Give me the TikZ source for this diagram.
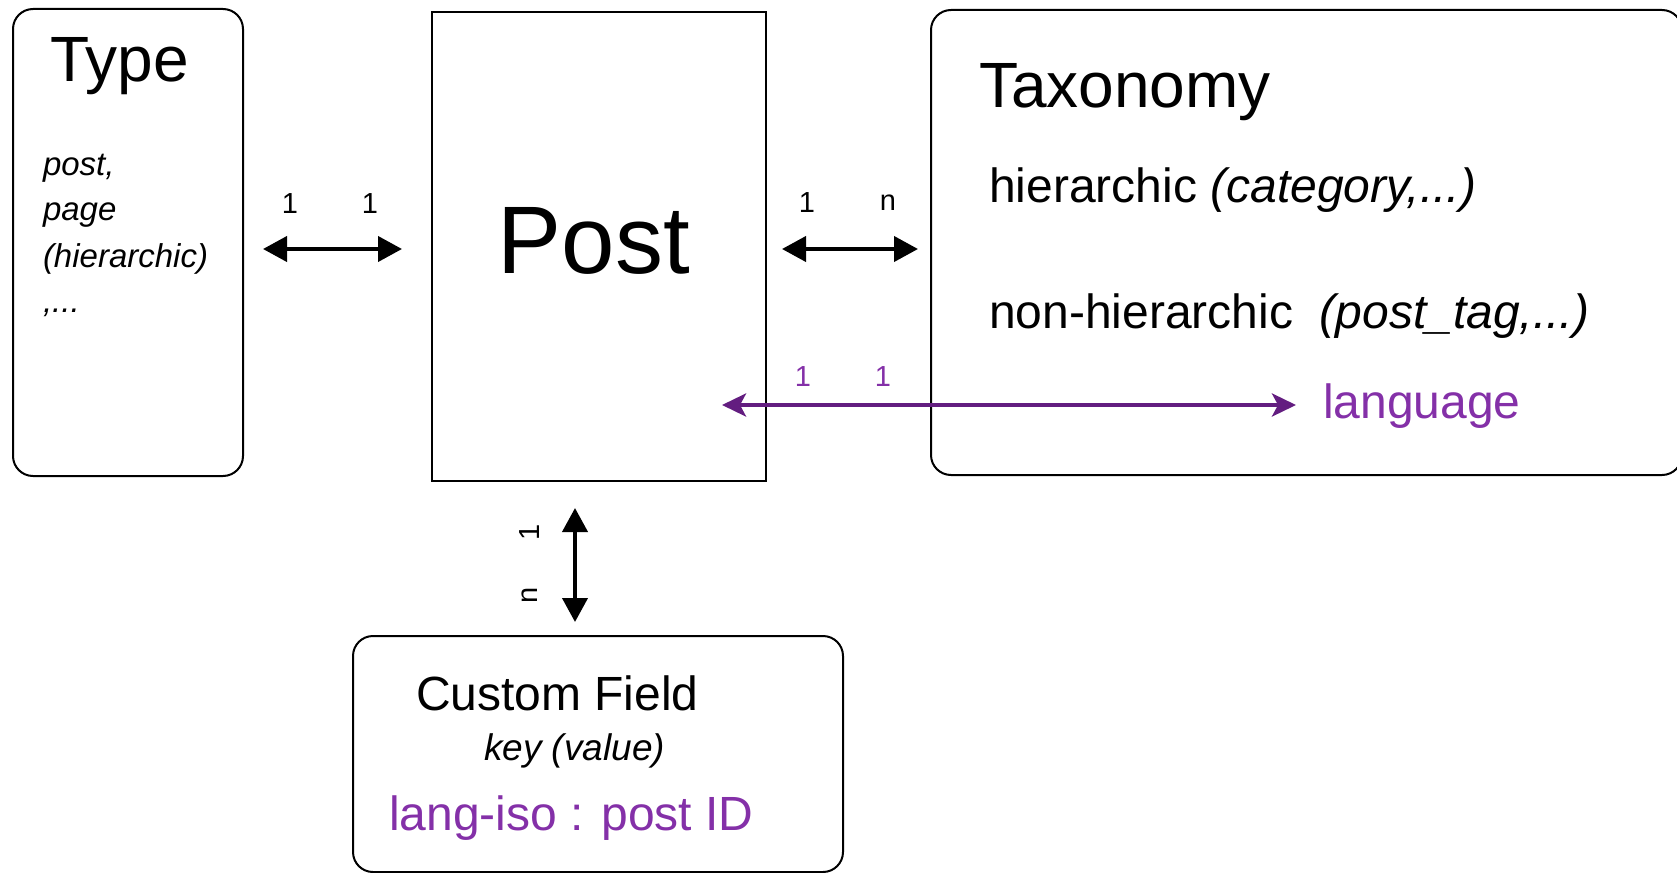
\documentclass[tikz,border=0pt]{standalone}
\usepackage{fontspec}
\setmainfont{Liberation Sans}
\usetikzlibrary{arrows.meta}
\definecolor{arrowpurple}{HTML}{631D80}
\definecolor{textpurple}{HTML}{8430A8}
\begin{document}
\begin{tikzpicture}[x=1pt,y=-1pt,
  box/.style={draw=black,line width=2pt,inner sep=0pt,anchor=north west},
  rbox/.style={box,rounded corners=20pt},
  txt/.style={anchor=base west,inner sep=0pt,outer sep=0pt},
  big/.style={font=\fontsize{64}{76}\selectfont},
  mid/.style={font=\fontsize{48}{57}\selectfont},
  small/.style={font=\fontsize{33}{39}\selectfont\itshape},
  card/.style={anchor=center,inner sep=0pt,font=\fontsize{29}{34}\selectfont},
  biarrow/.style={line width=4pt,{Triangle[length=24pt,width=25pt]}-{Triangle[length=24pt,width=25pt]}},
  purplearrow/.style={line width=4pt,draw=arrowpurple,
    {Stealth[length=24pt,width=23pt,inset=6pt]}-{Stealth[length=24pt,width=23pt,inset=6pt]}}]
\useasboundingbox (0,0) rectangle (1677,872);

% boxes
\node[rbox,minimum width=230pt,minimum height=467pt] (type) at (12,8) {};
\node[box,minimum width=334pt,minimum height=469pt] (post) at (431,11) {};
\node[rbox,minimum width=751pt,minimum height=465pt] (tax) at (930,9) {};
\node[rbox,minimum width=490pt,minimum height=236pt] (cf) at (352,635) {};

% Type texts
\node[txt,big] (typet) at (50,82) {Type};
\node[txt,small] (ty1) at (43,175) {post,};
\node[txt,small] (ty2) at (43,220) {page};
\node[txt,small] (ty3) at (43,267) {(hierarchic)};
\node[txt,small] (ty4) at (43,312) {,...};

% Post text
\node[anchor=base,inner sep=0pt,font=\fontsize{96}{110}\selectfont] (postt) at (594,273) {Post};

% Taxonomy texts
\node[txt,big] (taxt) at (979,108) {Taxonomy};
\node[txt,mid] (tx1) at (989,202) {hierarchic \textit{(category,...)}};
\node[txt,mid] (tx2) at (989,328) {non-hierarchic\ \ \textit{(post\_tag,...)}};
\node[txt,mid,text=textpurple] (lang) at (1323,418) {language};

% Custom field texts
\node[txt,mid] (cft) at (416,710) {Custom Field};
\node[txt,font=\fontsize{37}{44}\selectfont\itshape] (cf1) at (484,760) {key (value)};
\node[txt,mid,text=textpurple] (cf2) at (389,830) {lang-iso : post ID};

% connector end points
\coordinate (a1) at (263,249);
\coordinate (a2) at (402,249);
\coordinate (b1) at (782,249);
\coordinate (b2) at (918,249);
\coordinate (c1) at (722,405);
\coordinate (c2) at (1296,405);
\coordinate (d1) at (575,508);
\coordinate (d2) at (575,622);

\draw[biarrow] (a1) -- (a2);
\draw[biarrow] (b1) -- (b2);
\draw[purplearrow] (c1) -- (c2);
\draw[biarrow] (d1) -- (d2);

% cardinalities
\node[card] (la1) at (290,204) {1};
\node[card] (la2) at (370,204) {1};
\node[card] (lb1) at (807,203) {1};
\node[card] (lb2) at (888,203) {n};
\node[card,text=textpurple] (lc1) at (803,377) {1};
\node[card,text=textpurple] (lc2) at (883,377) {1};
\node[card,rotate=90] (ld1) at (530,532) {1};
\node[card,rotate=90] (ld2) at (530,595) {n};
\end{tikzpicture}
\end{document}
